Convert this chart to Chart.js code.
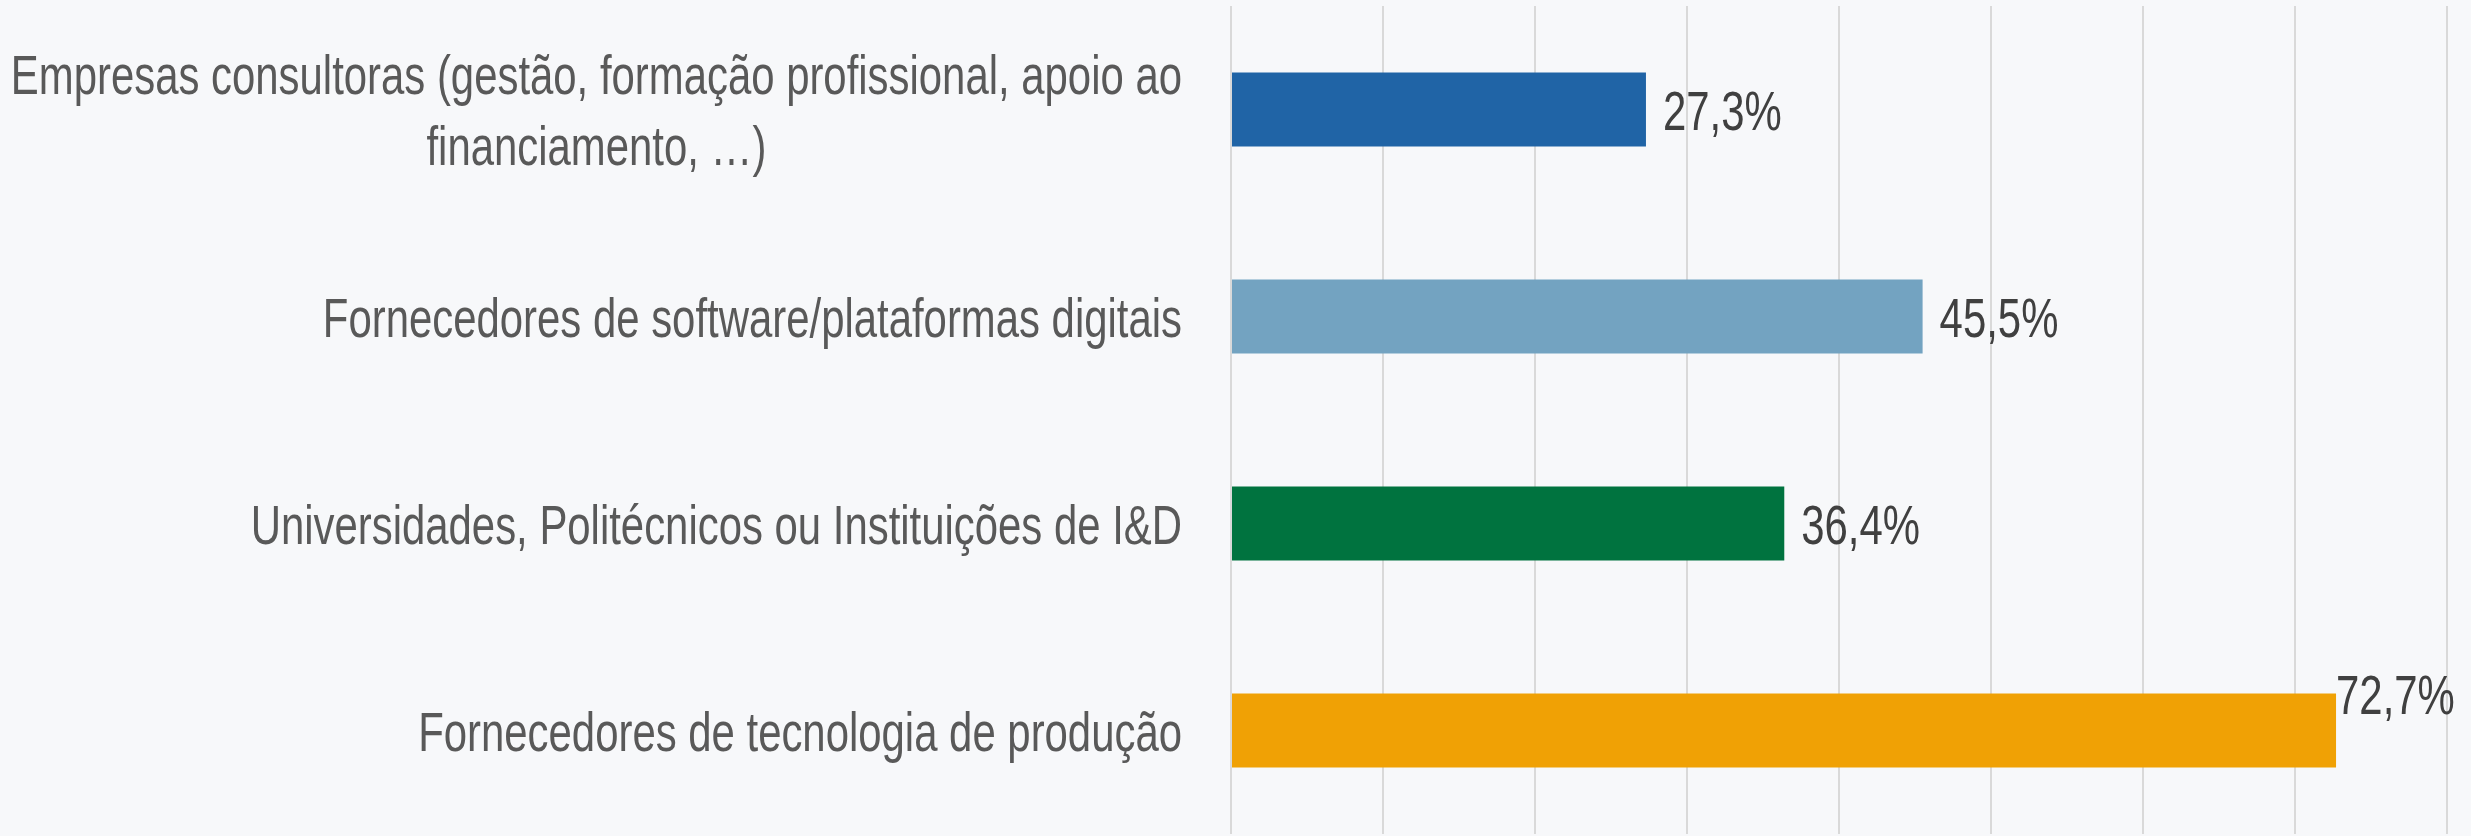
<!DOCTYPE html>
<html>
<head>
<meta charset="utf-8">
<script src="https://cdn.jsdelivr.net/npm/chart.js@4"></script>
<style>
  html, body { margin: 0; padding: 0; background: #f7f8fa; }
  #wrap { width: 2471px; height: 836px; }
</style>
</head>
<body>
<div id="wrap"><canvas id="chart"></canvas></div>
<script>
/* data */
const categories = [
  ['Empresas consultoras (gestão, formação profissional, apoio ao', 'financiamento, …)'],
  ['Fornecedores de software/plataformas digitais'],
  ['Universidades, Politécnicos ou Instituições de I&D'],
  ['Fornecedores de tecnologia de produção'],
];
const values = [27.3, 45.5, 36.4, 72.7];
const barColors = ['#2064a6', '#73a3c1', '#00733f', '#f0a105'];
const axisMax = 80;

const FONT = "'Liberation Sans', Arial, sans-serif";
const FONT_SIZE = 56;
const COND = 0.748;      // horizontal squeeze, the original uses a condensed face
const CAP_MID = Math.round(FONT_SIZE * 0.716 / 2);  // baseline offset to center caps
const AXIS_LEFT = 1231;

// draw condensed text, caps centered on y
function narrowText(ctx, txt, x, y, align) {
  ctx.save();
  ctx.translate(x, y + CAP_MID);
  ctx.scale(COND, 1);
  ctx.textAlign = align;
  ctx.textBaseline = 'alphabetic';
  ctx.fillText(txt, 0, 0);
  ctx.restore();
}

// y labels: multi-line labels centered on their widest line, block right-aligned
const yLabelPlugin = {
  id: 'yLabels',
  afterDraw(chart) {
    const { ctx } = chart;
    const y = chart.scales.y;
    ctx.save();
    ctx.font = `${FONT_SIZE}px ${FONT}`;
    ctx.fillStyle = '#595959';
    const lineH = 71;
    categories.forEach((lines, i) => {
      const cy = y.getPixelForTick(i);
      const w = Math.max(...lines.map(l => ctx.measureText(l).width)) * COND;
      const cx = chart.chartArea.left - 49 - w / 2;
      const y0 = cy - (lines.length - 1) * lineH / 2;
      lines.forEach((l, j) => narrowText(ctx, l, cx, y0 + j * lineH, 'center'));
    });
    ctx.restore();
  },
};

// value labels at the bar ends
const valueLabelPlugin = {
  id: 'valueLabels',
  afterDatasetsDraw(chart) {
    const { ctx } = chart;
    const meta = chart.getDatasetMeta(0);
    ctx.save();
    ctx.font = `${FONT_SIZE}px ${FONT}`;
    ctx.fillStyle = '#404040';
    meta.data.forEach((bar, i) => {
      const txt = values[i].toFixed(1).replace('.', ',') + '%';
      const w = ctx.measureText(txt).width * COND;
      let x = bar.x + 17, yy = bar.y;
      if (x + w > chart.width - 4) {  // no room: tuck it above the bar end
        x = bar.x;
        yy = bar.y - bar.height / 2;
      }
      narrowText(ctx, txt, x, yy, 'left');
    });
    ctx.restore();
  },
};

new Chart(document.getElementById('chart'), {
  type: 'bar',
  data: {
    labels: categories,
    datasets: [{
      data: values,
      backgroundColor: barColors,
      borderWidth: 0,
      categoryPercentage: 1,
      barPercentage: 0.357,
    }],
  },
  options: {
    indexAxis: 'y',
    responsive: true, maintainAspectRatio: false,
    animation: false,
    layout: { padding: { top: 6, right: 24, bottom: 2, left: 0 } },
    plugins: { legend: { display: false }, tooltip: { enabled: false } },
    scales: {
      x: {
        min: 0, max: axisMax,
        ticks: { display: false, stepSize: 10 },
        grid: { color: '#d9d9d9', lineWidth: 2, drawTicks: false },
        border: { display: false },
      },
      y: {
        ticks: { display: false },
        grid: { display: false },
        border: { display: false },
        afterFit(scale) { scale.width = AXIS_LEFT; },
      },
    },
  },
  plugins: [yLabelPlugin, valueLabelPlugin],
});
</script>
</body>
</html>
